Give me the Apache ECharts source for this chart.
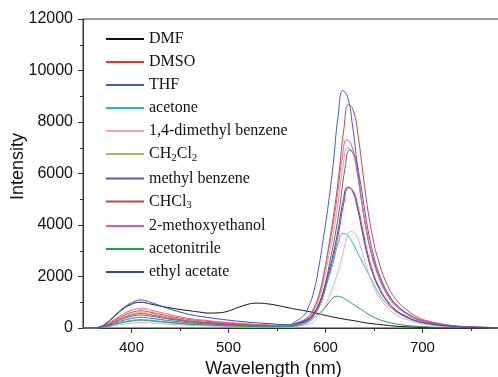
<!DOCTYPE html>
<html><head><meta charset="utf-8">
<script src="https://cdn.jsdelivr.net/npm/echarts@6/dist/echarts.min.js"></script>
<style>html,body{margin:0;padding:0;background:#fff}#c{width:498px;height:377px}</style>
</head><body><div id="c"></div>
<script>
// shared wavelength grid of the short-wavelength band
const lowWl = [350,360,365,370,375,380,385,390,395,400,405,410,415,420,430,440,450,460,480,500,520,540,560];

const dmfWl = [350,360,365,370,375,380,385,390,395,400,405,410,415,420,430,440,450,460,470,480,490,500,510,520,525,530,540,550,560,570,580,590,600,610,620,630,640,650,660,670,680,700,720,740,780];
const dmfI  = [0,0,15,70,200,370,540,700,830,920,985,1000,975,930,850,780,720,670,620,580,590,660,800,920,955,965,940,880,800,725,660,580,490,410,340,280,210,160,120,80,55,25,12,5,0];

const dmsoWl = [574,584,589,594,599,604,609,614,619,624,629,634,639,644,649,654,664,674,684,694,704,724,744,774,780];
const dmsoLow = [0,0,13,54,134,242,349,450,538,605,652,672,652,612,531,450,383,323,249,188,141,108,81];
const dmsoPk  = [176,328,541,863,1401,2104,2859,3778,4860,5454,5288,4635,3711,2840,2187,1697,1044,662,443,278,185,85,36,12,6];

const thfWl = [568,578,583,588,593,598,603,608,613,618,623,628,633,638,643,648,658,668,678,688,698,718,738,768,780];
const thfLow = [0,0,8,33,83,149,216,278,332,374,403,415,403,378,328,278,237,199,154,116,87,66,50];
const thfPk  = [229,498,864,1413,2331,3524,4810,6372,8210,9220,8942,7836,6271,4798,3692,2863,1757,1111,742,465,308,141,57,19,10];

const acetoneWl = [568,578,583,588,593,598,603,608,613,618,623,628,633,638,643,648,658,668,678,688,698,718,738,768,780];
const acetoneLow = [0,0,7,26,66,119,172,221,264,297,320,330,320,300,261,221,188,158,122,92,69,53,40];
const acetonePk  = [109,213,358,574,938,1409,1919,2538,3266,3666,3591,3298,2932,2566,2200,1834,1175,774,516,333,222,93,39,12,5];

const dmbWl = [576,586,591,596,601,606,611,616,621,626,631,636,641,646,651,656,666,676,686,696,706,726,746,776,780];
const dmbLow = [0,0,4,17,42,76,109,141,168,189,204,210,204,191,166,141,120,101,78,59,44,34,25];
const dmbPk  = [95,204,353,576,949,1434,1957,2592,3339,3749,3636,3186,2549,1951,1501,1164,715,452,302,189,125,57,23,7,6];

const dcmWl = [573,583,588,593,598,603,608,613,618,623,628,633,638,643,648,653,663,673,683,693,703,723,743,773,780];
const dcmLow = [0,0,12,49,122,220,317,409,488,549,592,610,592,555,482,409,348,293,226,171,128,98,73];
const dcmPk  = [200,401,676,1092,1786,2690,3665,4848,6241,7006,6795,5954,4766,3647,2807,2178,1338,848,566,356,235,109,45,15,7];

const tolWl = [575,585,590,595,600,605,610,615,620,625,630,635,640,645,650,655,665,675,685,695,705,725,745,775,780];
const tolLow = [0,0,10,40,101,182,263,338,404,455,490,505,490,460,399,338,288,242,187,141,106,81,61];
const tolPk  = [188,388,660,1071,1757,2649,3612,4780,6156,6912,6703,5875,4701,3597,2769,2148,1319,835,558,351,232,106,44,15,8];

const chcl3Wl = [574,584,589,594,599,604,609,614,619,624,629,634,639,644,649,654,664,674,684,694,704,724,744,774,780];
const chcl3Low = [0,0,11,45,112,202,291,375,448,504,543,560,543,510,442,375,319,269,207,157,118,90,67];
const chcl3Pk  = [228,481,823,1340,2203,3326,4535,6004,7733,8684,8422,7381,5907,4519,3478,2698,1656,1048,700,439,291,134,55,18,12];

const meoWl = [572,582,587,592,597,602,607,612,617,622,627,632,637,642,647,652,662,672,682,692,702,722,742,772,780];
const meoLow = [0,0,15,61,153,275,398,513,612,689,742,765,742,696,604,513,436,367,283,214,161,122,92];
const meoPk  = [221,429,715,1147,1870,2811,3826,5059,6510,7307,7086,6210,4970,3803,2929,2273,1397,885,592,372,247,114,48,16,8];

const mecnLowWl = [350,360,365,370,375,380,385,390,395,400,405,410,415,420,430,440,450,460,480,500,520,540];
const mecnWl = [561,571,576,581,586,591,596,601,606,611,616,621,626,631,636,641,651,661,671,681,691,711,731,761,780];
const mecnLow = [0,0,6,24,60,108,156,201,240,270,291,300,291,273,237,201,171,144,111,84,63,48];
const mecnPk  = [60,92,138,209,329,485,653,859,1100,1233,1207,1108,986,862,740,617,397,261,175,113,77,32,14,5,2];

const eaWl = [573,583,588,593,598,603,608,613,618,623,628,633,638,643,648,653,663,673,683,693,703,723,743,773,780];
const eaLow = [0,0,22,87,218,392,567,730,872,981,1057,1090,1057,992,861,730,621,523,403,305,229,174,131];
const eaPk  = [217,364,574,894,1429,2130,2883,3800,4879,5472,5305,4649,3724,2852,2197,1707,1052,668,448,283,189,88,38,12,6];

const xLabels = [400,500,600,700];
const xMinor = [450,550,650,750];

function pairs(wl, vals){ return wl.map((w,i)=>[w, vals[i]]); }

const seriesDefs = [
  ['DMF', '#111111', pairs(dmfWl, dmfI)],
  ['DMSO', '#ff2a2a', pairs(lowWl.concat(dmsoWl), dmsoLow.concat(dmsoPk))],
  ['THF', '#3a5ccc', pairs(lowWl.concat(thfWl), thfLow.concat(thfPk))],
  ['acetone', '#22bdb8', pairs(lowWl.concat(acetoneWl), acetoneLow.concat(acetonePk))],
  ['1,4-dimethyl benzene', '#f3a0c8', pairs(lowWl.concat(dmbWl), dmbLow.concat(dmbPk))],
  ['CH2Cl2', '#b7b26c', pairs(lowWl.concat(dcmWl), dcmLow.concat(dcmPk))],
  ['methyl benzene', '#5a5ab0', pairs(lowWl.concat(tolWl), tolLow.concat(tolPk))],
  ['CHCl3', '#c24848', pairs(lowWl.concat(chcl3Wl), chcl3Low.concat(chcl3Pk))],
  ['2-methoxyethanol', '#f0509c', pairs(lowWl.concat(meoWl), meoLow.concat(meoPk))],
  ['acetonitrile', '#1fa055', pairs(mecnLowWl.concat(mecnWl), mecnLow.concat(mecnPk))],
  ['ethyl acetate', '#2a48bb', pairs(lowWl.concat(eaWl), eaLow.concat(eaPk))]
];

const chart = echarts.init(document.getElementById('c'));
const axisColor = '#333';
chart.setOption({
  animation: false,
  backgroundColor: '#fff',
  grid: { left: 83, top: 19, width: 417, height: 309, show: true, borderColor: axisColor, borderWidth: 1,
          backgroundColor: 'transparent', containLabel: false, outerBoundsMode: 'none' },
  legend: {
    orient: 'vertical', left: 100, top: 26, itemWidth: 38, itemHeight: 14, itemGap: 7,
    data: seriesDefs.map(s => s[0]),
    itemStyle: { opacity: 0 },
    textStyle: { fontFamily: 'Liberation Serif', fontSize: 16, color: '#111',
      rich: {
        t: { fontFamily: 'Liberation Serif', fontSize: 16, color: '#111' },
        s: { fontFamily: 'Liberation Serif', fontSize: 11, color: '#111', verticalAlign: 'bottom', padding: [8,0,0,0] }
      } },
    formatter: function(n){
      if (n === 'CH2Cl2') return '{t|CH}{s|2}{t|Cl}{s|2}';
      if (n === 'CHCl3') return '{t|CHCl}{s|3}';
      return n;
    }
  },
  xAxis: [{
    type: 'value', min: 350, max: 780,
    axisLine: { show: true, lineStyle: { color: axisColor } },
    axisTick: { show: true, customValues: xLabels, length: 5, lineStyle: { color: axisColor } },
    axisLabel: { customValues: xLabels, fontFamily: 'Liberation Sans', fontSize: 15, color: '#111', margin: 12 },
    splitLine: { show: false },
    name: 'Wavelength (nm)', nameLocation: 'middle', nameGap: 30,
    nameTextStyle: { fontFamily: 'Liberation Sans', fontSize: 18, color: '#111', padding: [0, 36, 0, 0] }
  }, {
    type: 'value', min: 350, max: 780, position: 'bottom',
    axisLine: { show: false },
    axisTick: { show: true, customValues: xMinor, length: 3, lineStyle: { color: axisColor } },
    axisLabel: { show: false }, splitLine: { show: false }
  }],
  yAxis: {
    type: 'value', min: 0, max: 12000, interval: 2000,
    axisLine: { show: true, lineStyle: { color: axisColor } },
    axisTick: { show: true, length: 5, lineStyle: { color: axisColor } },
    minorTick: { show: true, splitNumber: 2, length: 3, lineStyle: { color: axisColor } },
    axisLabel: { fontFamily: 'Liberation Sans', fontSize: 16, color: '#111', margin: 10, formatter: v => String(v) },
    splitLine: { show: false },
    name: 'Intensity', nameLocation: 'middle', nameGap: 56, nameMoveOverlap: false,
    nameTextStyle: { fontFamily: 'Liberation Sans', fontSize: 18, color: '#111', padding: [0, 0, 0, 14] }
  },
  series: seriesDefs.map(s => ({
    name: s[0], type: 'line', data: s[2], smooth: true, symbol: 'none', showSymbol: false,
    xAxisIndex: 0, yAxisIndex: 0,
    lineStyle: { width: 1, color: s[1] }, itemStyle: { color: s[1] }
  }))
});
</script></body></html>
